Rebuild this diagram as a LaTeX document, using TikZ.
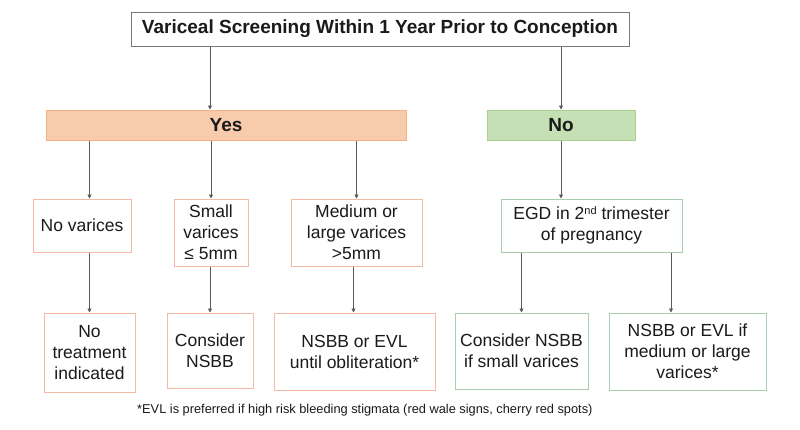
\documentclass[tikz,border=0pt]{standalone}
\usepackage{fontspec}
\setmainfont{Liberation Sans}
\usetikzlibrary{arrows.meta}
\definecolor{txt}{HTML}{1A1A1A}
\definecolor{peachfill}{HTML}{F8CBAD}
\definecolor{peachline}{HTML}{F4B183}
\definecolor{greenfill}{HTML}{C5E0B4}
\definecolor{greenline}{HTML}{A9D18E}
\definecolor{obox}{HTML}{F4B8A4}
\definecolor{gbox}{HTML}{A8CDB0}
\definecolor{conn}{HTML}{595959}
\tikzset{
  base/.style={text=txt, inner sep=0pt, align=center, line width=1pt,
    font=\fontsize{17.5}{21}\selectfont},
  titlebox/.style={base, draw=conn!80, fill=white,
    font=\fontsize{19}{22}\selectfont\bfseries},
  yesbox/.style={base, draw=peachline, fill=peachfill,
    font=\fontsize{19}{22}\selectfont\bfseries},
  nobox/.style={base, draw=greenline, fill=greenfill,
    font=\fontsize{19}{22}\selectfont\bfseries},
  obx/.style={base, draw=obox, fill=white},
  gbx/.style={base, draw=gbox, fill=white},
  arr/.style={draw=conn, line width=0.9pt, -{Triangle[length=4pt,width=4pt]}},
  ln/.style={draw=conn, line width=0.9pt}
}
\begin{document}
\begin{tikzpicture}[x=1pt,y=-1pt]
\useasboundingbox[fill=white] (0,0) rectangle (800,429);

\node[titlebox, minimum width=498pt, minimum height=34pt] (title) at (380,29)
  {Variceal Screening Within 1 Year Prior to Conception};

\node[yesbox, minimum width=360pt, minimum height=30pt] (yes) at (226,125) {Yes};
\node[nobox, minimum width=148pt, minimum height=30pt] (no) at (561,125) {No};

\node[obx, minimum width=98pt, minimum height=53pt] (novar) at (82,225.5) {No varices};
\node[obx, minimum width=74pt, minimum height=67pt] (small) at (211,232.5) {Small\\varices\\≤ 5mm};
\node[obx, minimum width=131pt, minimum height=67pt] (medium) at (356.5,232.5) {Medium or\\large varices\\>5mm};
\node[gbx, minimum width=181pt, minimum height=53pt] (egd) at (591.5,225.5)
  {EGD in 2{\fontsize{11}{11}\selectfont\raisebox{5pt}{nd}} trimester\\of pregnancy};

\node[obx, minimum width=91pt, minimum height=79pt] (notreat) at (89.5,352.5) {No\\treatment\\indicated};
\node[obx, minimum width=86pt, minimum height=75pt] (cons) at (210,350.5) {Consider\\NSBB};
\node[obx, minimum width=161pt, minimum height=77pt] (nsbbevl) at (354.5,351.5) {NSBB or EVL\\until obliteration*};
\node[gbx, minimum width=133pt, minimum height=76pt] (conssmall) at (521.5,351) {Consider NSBB\\if small varices};
\node[gbx, minimum width=157pt, minimum height=77pt] (nsbbif) at (687.5,351.5) {NSBB or EVL if\\medium or large\\varices*};

\node[text=txt, inner sep=0pt, anchor=west, font=\fontsize{12.8}{14}\selectfont] (foot) at (137,410)
  {*EVL is preferred if high risk bleeding stigmata (red wale signs, cherry red spots)};

% connectors
\draw[arr] (title.south -| cons.north) -- (yes.north -| cons.north);
\draw[arr] (title.south -| no.north) -- (no.north);

\draw[arr] (yes.south -| notreat.north) -- (novar.north -| notreat.north);
\draw[arr] (yes.south -| small.north) -- (small.north);
\draw[arr] (yes.south -| medium.north) -- (medium.north);
\draw[arr] (no.south) -- (egd.north -| no.south);

\draw[arr] (novar.south -| notreat.north) -- (notreat.north);
\draw[arr] (small.south -| cons.north) -- (cons.north);
\draw[arr] ([xshift=-3pt]medium.south) -- ([xshift=-3pt]medium.south |- nsbbevl.north);
\draw[arr] (egd.south -| conssmall.north) -- (conssmall.north);
\draw[arr] ([xshift=-16.5pt]nsbbif.north |- egd.south) -- ([xshift=-16.5pt]nsbbif.north);
\end{tikzpicture}
\end{document}
